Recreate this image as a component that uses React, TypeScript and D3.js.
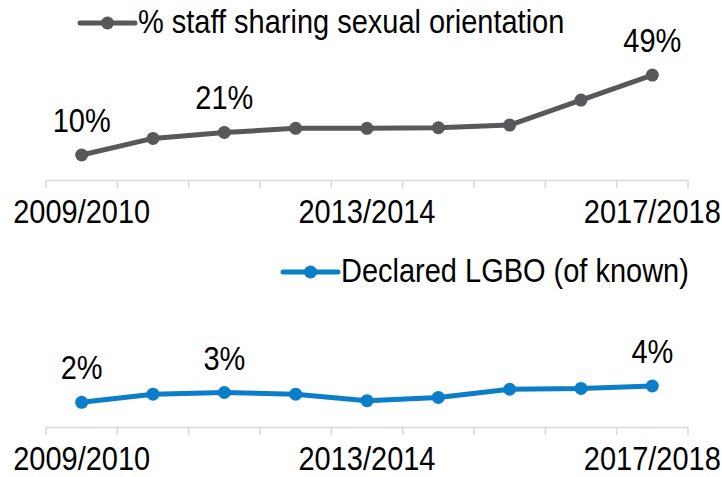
import { useEffect, useRef } from "react";
import * as d3 from "d3";

const years = [
  "2009/2010",
  "2010/2011",
  "2011/2012",
  "2012/2013",
  "2013/2014",
  "2014/2015",
  "2015/2016",
  "2016/2017",
  "2017/2018",
];
const shownYears = ["2009/2010", "2013/2014", "2017/2018"];

const sharingPct = [10, 18.1, 21, 23, 23, 23.3, 24.6, 36.8, 49];
const sharingLabelled = [0, 2, 8];

const lgboPct = [2, 3, 3.2, 3, 2.2, 2.6, 3.6, 3.7, 4];
const lgboLabelled = [0, 2, 8];

const FONT = "'Liberation Sans', Arial, sans-serif";
const STRETCH = 1.12; // reference glyphs are a bit taller than Arial

export default function App() {
  const svgRef = useRef<SVGSVGElement>(null);

  useEffect(() => {
    if (!svgRef.current) return;
    document.body.style.margin = "0";

    const width = 722;
    const height = 477;
    const svg = d3.select(svgRef.current);
    svg.selectAll("*").remove();
    svg.attr("width", width).attr("height", height);

    const x = d3.scaleBand<string>().domain(years).range([46, 688]);
    const cx = (d: string) => x(d)! + x.bandwidth() / 2;
    const at = (tx: number, ty: number) => `translate(${tx},${ty}) scale(1,${STRETCH})`;

    const panels = [
      {
        name: "% staff sharing sexual orientation",
        values: sharingPct,
        labelled: sharingLabelled,
        color: "#58585b",
        y: d3.scaleLinear().domain([0, 50]).range([175.5, 73]),
        axisY: 180,
        legendX: 80,
        legendY: 23,
      },
      {
        name: "Declared LGBO (of known)",
        values: lgboPct,
        labelled: lgboLabelled,
        color: "#0a7ec8",
        y: d3.scaleLinear().domain([0, 5]).range([418.6, 377.85]),
        axisY: 427,
        legendX: 283,
        legendY: 272,
      },
    ];

    panels.forEach((p) => {
      const g = svg.append("g");

      // Legend
      g.append("line")
        .attr("x1", p.legendX)
        .attr("x2", p.legendX + 55)
        .attr("y1", p.legendY)
        .attr("y2", p.legendY)
        .attr("stroke", p.color)
        .attr("stroke-width", 5)
        .attr("stroke-linecap", "round");
      g.append("circle")
        .attr("cx", p.legendX + 27.5)
        .attr("cy", p.legendY)
        .attr("r", 6.5)
        .attr("fill", p.color);
      g.append("text")
        .attr("transform", at(p.legendX + 58, p.legendY + 10))
        .attr("font-family", FONT)
        .attr("font-size", 29)
        .attr("fill", "#000")
        .text(p.name);

      // Axis
      const axis = d3.axisBottom(x).tickValues([]).tickSizeOuter(0);
      const ag = g
        .append("g")
        .attr("transform", `translate(0,${p.axisY})`)
        .call(axis);
      ag.select(".domain").attr("stroke", "#d9d9d9").attr("stroke-width", 1.5);
      const bounds = years.map((d) => x(d)!).concat([x.range()[1]]);
      ag.selectAll(".tk")
        .data(bounds)
        .join("line")
        .attr("class", "tk")
        .attr("x1", (d) => d)
        .attr("x2", (d) => d)
        .attr("y1", 0)
        .attr("y2", 8)
        .attr("stroke", "#d9d9d9")
        .attr("stroke-width", 1.5);
      ag.selectAll(".lbl")
        .data(shownYears)
        .join("text")
        .attr("class", "lbl")
        .attr("transform", (d) => at(cx(d), 43))
        .attr("text-anchor", "middle")
        .attr("font-family", FONT)
        .attr("font-size", 29)
        .attr("fill", "#000")
        .text((d) => d);

      // Line
      const line = d3
        .line<number>()
        .x((_, i) => cx(years[i]))
        .y((d) => p.y(d));
      g.append("path")
        .datum(p.values)
        .attr("fill", "none")
        .attr("stroke", p.color)
        .attr("stroke-width", 5)
        .attr("stroke-linejoin", "round")
        .attr("d", line);
      g.selectAll(".pt")
        .data(p.values)
        .join("circle")
        .attr("class", "pt")
        .attr("cx", (_, i) => cx(years[i]))
        .attr("cy", (d) => p.y(d))
        .attr("r", 6.5)
        .attr("fill", p.color);

      // Data labels
      g.selectAll(".dl")
        .data(p.labelled)
        .join("text")
        .attr("class", "dl")
        .attr("transform", (i) => at(cx(years[i]), p.y(p.values[i]) - 23))
        .attr("text-anchor", "middle")
        .attr("font-family", FONT)
        .attr("font-size", 29)
        .attr("fill", "#000")
        .text((i) => `${Math.round(p.values[i])}%`);
    });
  }, []);

  return <svg ref={svgRef} style={{ display: "block" }} />;
}
